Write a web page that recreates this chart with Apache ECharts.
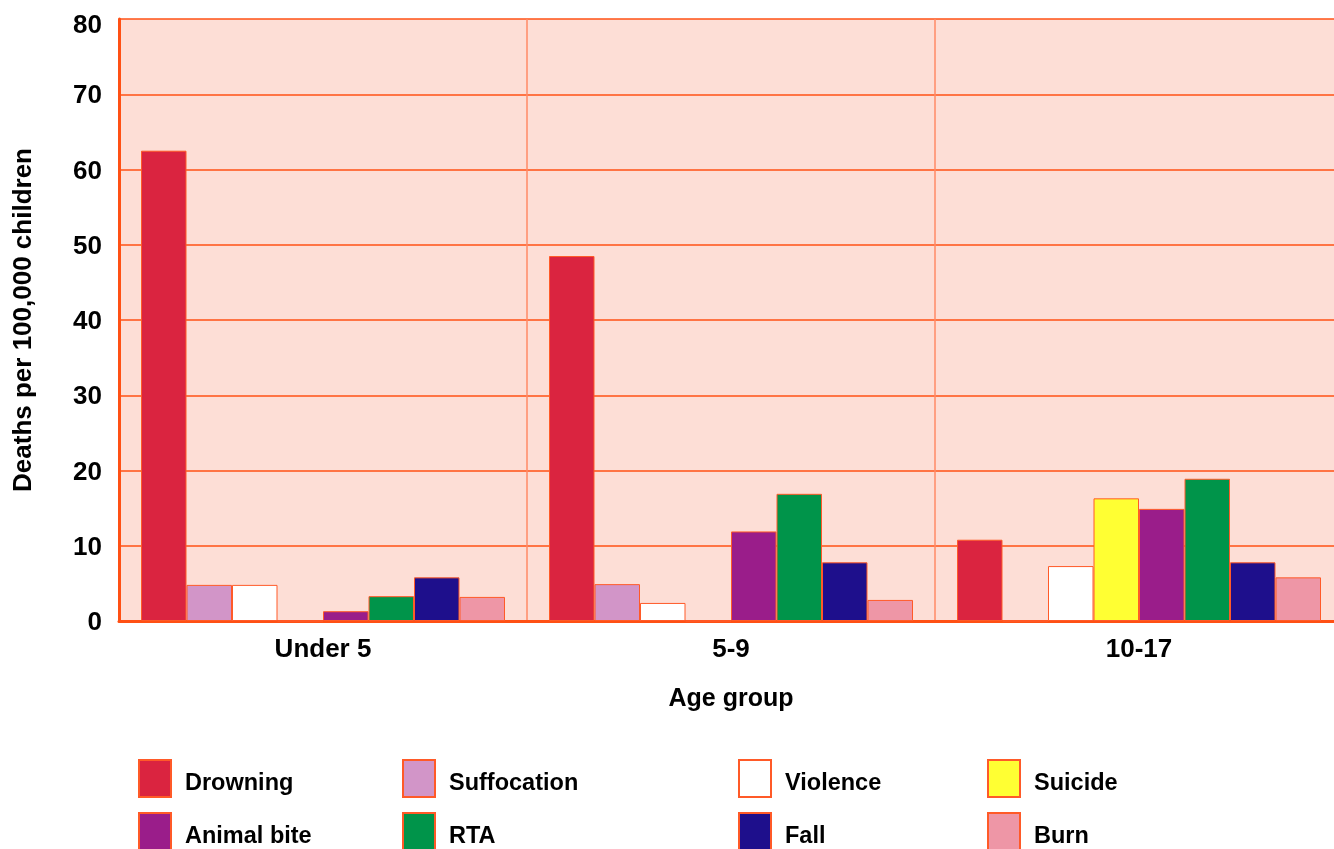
<!DOCTYPE html>
<html>
<head>
<meta charset="utf-8">
<script src="https://cdn.jsdelivr.net/npm/echarts@6/dist/echarts.min.js"></script>
<style>
  html, body { margin: 0; padding: 0; background: #ffffff; }
  #chart { width: 1334px; height: 849px; }
</style>
</head>
<body>
<div id="chart"></div>
<script>
// Child injury death rates by cause and age group
const ageGroups = ['Under 5', '5-9', '10-17'];
const yTicks = [0, 10, 20, 30, 40, 50, 60, 70, 80];

const drowning    = [62.5, 48.5, 10.8];
const suffocation = [4.8, 4.9, 0];
const violence    = [4.8, 2.4, 7.3];
const suicide     = [0, 0, 16.3];
const animalBite  = [1.3, 11.9, 14.9];
const rta         = [3.3, 16.9, 18.9];
const fall        = [5.8, 7.8, 7.8];
const burn        = [3.2, 2.8, 5.8];

const causes = [
  { name: 'Drowning',    data: drowning,    color: '#DA2440' },
  { name: 'Suffocation', data: suffocation, color: '#D295C8' },
  { name: 'Violence',    data: violence,    color: '#FFFFFF' },
  { name: 'Suicide',     data: suicide,     color: '#FFFF33' },
  { name: 'Animal bite', data: animalBite,  color: '#9A1D8A' },
  { name: 'RTA',         data: rta,         color: '#00944A' },
  { name: 'Fall',        data: fall,        color: '#1E0F8C' },
  { name: 'Burn',        data: burn,        color: '#EE96A6' }
];

const ORANGE = '#FF5014';
const FONT = '"Liberation Sans", Arial, sans-serif';

// Legend laid out as two rows of four entries
const legendCols = [138, 402, 738, 987];
const legendRows = [759, 812];
const legendOrder = [
  ['Drowning', 'Suffocation', 'Violence', 'Suicide'],
  ['Animal bite', 'RTA', 'Fall', 'Burn']
];
const legendText = { fontFamily: FONT, fontWeight: 'bold', fontSize: 23.5, color: '#000' };
const legends = [];
legendOrder.forEach((row, r) => {
  row.forEach((name, c) => {
    legends.push({
      left: legendCols[c],
      top: legendRows[r],
      padding: 0,
      itemWidth: 32,
      itemHeight: 37,
      icon: 'rect',
      data: [name],
      selectedMode: false,
      formatter: '{t|{name}}',
      textStyle: Object.assign({}, legendText, {
        rich: { t: Object.assign({}, legendText, { padding: [11, 0, 0, 9] }) }
      })
    });
  });
});

const chart = echarts.init(document.getElementById('chart'), null, { renderer: 'canvas' });

chart.setOption({
  animation: false,
  backgroundColor: '#ffffff',
  grid: {
    left: 119, top: 19, width: 1224, height: 602,
    outerBoundsMode: 'none',
    containLabel: false,
    show: true, backgroundColor: '#FDDED6', borderWidth: 0
  },
  legend: legends,
  xAxis: {
    type: 'category',
    data: ageGroups,
    name: 'Age group',
    nameLocation: 'middle',
    nameGap: 66,
    nameTextStyle: { fontFamily: FONT, fontWeight: 'bold', fontSize: 25, color: '#000' },
    axisLine: { lineStyle: { color: ORANGE, width: 3 } },
    axisTick: { show: false },
    axisLabel: { fontFamily: FONT, fontWeight: 'bold', fontSize: 26, color: '#000', margin: 16 },
    splitLine: { show: true, lineStyle: { color: '#FF8A66', width: 1.5 } }
  },
  yAxis: {
    type: 'value',
    min: yTicks[0],
    max: yTicks[yTicks.length - 1],
    interval: 10,
    name: 'Deaths per 100,000 children',
    nameLocation: 'middle',
    nameGap: 82,
    nameTextStyle: { fontFamily: FONT, fontWeight: 'bold', fontSize: 26, color: '#000' },
    axisLine: { show: true, lineStyle: { color: ORANGE, width: 3 } },
    axisTick: { show: false },
    axisLabel: {
      fontFamily: FONT, fontWeight: 'bold', fontSize: 26, color: '#000', margin: 17,
      formatter: v => (v === yTicks[yTicks.length - 1] ? '{top|' + v + '}' : '{n|' + v + '}'),
      rich: {
        top: { fontFamily: FONT, fontWeight: 'bold', fontSize: 26, color: '#000', padding: [14, 0, 0, 0] },
        n: { fontFamily: FONT, fontWeight: 'bold', fontSize: 26, color: '#000', padding: [4, 0, 0, 0] }
      }
    },
    splitLine: { show: true, lineStyle: { color: ORANGE, width: 1.5 } }
  },
  series: causes.map(c => ({
    name: c.name,
    type: 'bar',
    data: c.data,
    barWidth: 45.5,
    barGap: '0%',
    itemStyle: { color: c.color, borderColor: '#FF5A28', borderWidth: 1 }
  }))
});
</script>
</body>
</html>
